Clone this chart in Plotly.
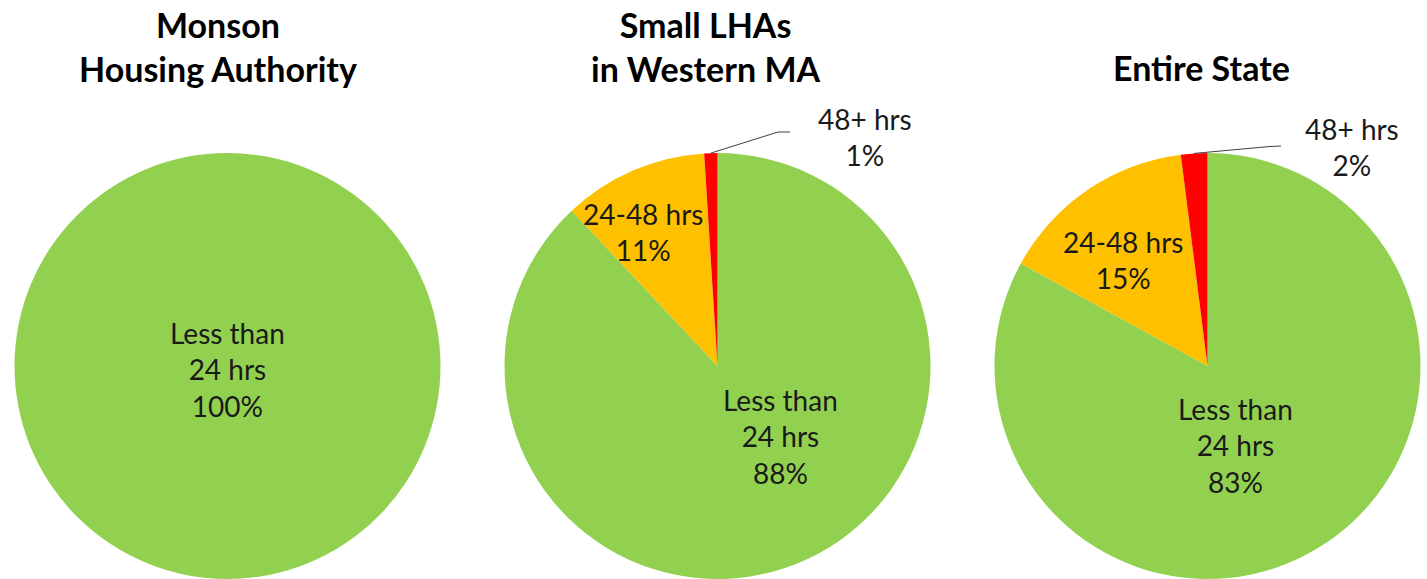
import math
import plotly.graph_objects as go

W, H = 1427, 579

# ---- data ----
categories = ["Less than 24 hrs", "24-48 hrs", "48+ hrs"]
label_text = ["Less than<br>24 hrs", "24-48 hrs", "48+ hrs"]
titles = ["Monson<br>Housing Authority", "Small LHAs<br>in Western MA", "Entire State"]
monson = [100]
small_lhas = [88, 11, 1]
entire_state = [83, 15, 2]
series = [monson, small_lhas, entire_state]

# ---- styles / layout ----
colors = ["#92D050", "#FFC000", "#FF0000"]
pie_x_px = [(14, 441), (504, 931), (994, 1421)]
pie_top_px, pie_bot_px = 153, 579
title_pos_px = [(218, 46), (706, 46), (1201, 67)]
label_pos_px = [
    [(227, 369)],
    [(780, 436), (643, 232), (865, 137)],
    [(1235, 445), (1123, 260), (1352, 147)],
]
# leader line elbow/end for outside (red) labels, pixels
leader_px = [None, [(778, 132), (790, 132)], [(1270, 146.5), (1281, 146)]]

LABEL_FONT = dict(family="Lato, Carlito, sans-serif", size=28, color="#1a1a1a")
TITLE_FONT = dict(family="Lato, Carlito, sans-serif", size=34, color="#000000")


def px2paper(x, y):
    return x / W, 1 - y / H


fig = go.Figure()
annotations = []
shapes = []
for i, vals in enumerate(series):
    x0, x1 = pie_x_px[i]
    fig.add_trace(go.Pie(
        labels=categories[:len(vals)],
        values=vals,
        marker=dict(colors=colors[:len(vals)], line=dict(width=0)),
        sort=False,
        direction="clockwise",
        rotation=0,
        textinfo="none",
        hoverinfo="label+percent",
        showlegend=False,
        domain=dict(x=[x0 / W, x1 / W], y=[1 - pie_bot_px / H, 1 - pie_top_px / H]),
    ))
    # titles
    tx, ty = px2paper(*title_pos_px[i])
    annotations.append(dict(x=tx, y=ty, xref="paper", yref="paper", text="<b>" + titles[i] + "</b>",
                            showarrow=False, font=TITLE_FONT, xanchor="center", yanchor="middle"))
    # slice labels
    total = sum(vals)
    for j, v in enumerate(vals):
        lx, ly = px2paper(*label_pos_px[i][j])
        annotations.append(dict(x=lx, y=ly, xref="paper", yref="paper",
                                text=f"{label_text[j]}<br>{round(100 * v / total)}%",
                                showarrow=False, font=LABEL_FONT, xanchor="center", yanchor="middle"))
    # leader line for the last (small) slice
    if leader_px[i] is not None:
        cx = (x0 + x1) / 2
        cy = (pie_top_px + pie_bot_px) / 2
        r = min(x1 - x0, pie_bot_px - pie_top_px) / 2
        cum = sum(vals[:-1]) + vals[-1] / 2
        ang = 2 * math.pi * cum / total
        sx, sy = cx + r * math.sin(ang), cy - r * math.cos(ang)
        pts = [(sx, sy)] + leader_px[i]
        pp = [px2paper(*p) for p in pts]
        path = "M " + " L ".join(f"{a:.5f},{b:.5f}" for a, b in pp)
        shapes.append(dict(type="path", path=path, xref="paper", yref="paper",
                           line=dict(color="#404040", width=1)))

fig.update_layout(
    width=W, height=H,
    margin=dict(l=0, r=0, t=0, b=0),
    paper_bgcolor="white",
    plot_bgcolor="white",
    annotations=annotations,
    shapes=shapes,
)
fig.write_html("out.html", config={"displayModeBar": False},
               post_script="document.body.style.margin='0px';document.body.style.overflow='hidden';")
